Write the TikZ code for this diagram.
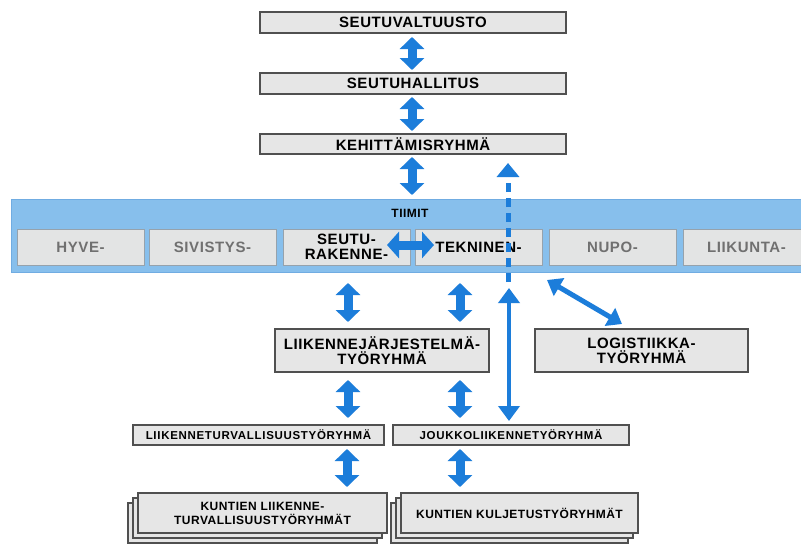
\documentclass[tikz,border=0pt]{standalone}
\usepackage{fontspec}
\setmainfont{Liberation Sans}
\newfontfamily\lbl[LetterSpace=4]{Liberation Sans}
\usetikzlibrary{arrows.meta}
\definecolor{ablue}{RGB}{28,125,218}
\definecolor{bandblue}{RGB}{135,191,236}
\definecolor{bandedge}{RGB}{112,172,226}
\definecolor{boxfill}{RGB}{230,230,230}
\definecolor{boxedge}{RGB}{80,80,80}
\definecolor{teamfill}{RGB}{227,228,228}
\definecolor{teamedge}{RGB}{150,162,172}
\definecolor{greytxt}{RGB}{112,112,112}
\begin{document}
\begin{tikzpicture}[x=1pt,y=-1pt,
  box/.style={draw=boxedge, fill=boxfill, line width=1.4pt, inner sep=0pt, align=center,
    font=\lbl\bfseries\fontsize{15}{15}\selectfont},
  smallbox/.style={box, font=\lbl\bfseries\addfontfeature{LetterSpace=6}\fontsize{11.5}{13.5}\selectfont},
  stackbox/.style={box, font=\lbl\bfseries\addfontfeature{LetterSpace=4}\fontsize{12}{14}\selectfont},
  teambox/.style={draw=teamedge, fill=teamfill, line width=1pt, inner sep=0pt, align=center,
    minimum width=127pt, minimum height=36pt, font=\lbl\bfseries\fontsize{15}{15.5}\selectfont},
  offteam/.style={teambox, text=greytxt},
  fat/.style={ablue, line width=9pt, {Triangle[width=24pt,length=12pt]}-{Triangle[width=24pt,length=12pt]}},
  hfat/.style={ablue, line width=9pt, {Triangle[width=26pt,length=12pt]}-{Triangle[width=26pt,length=12pt]}},
  thinarr/.style={ablue, line width=4pt, {Triangle[width=21pt,length=15pt]}-{Triangle[width=21pt,length=15pt]}},
  diagarr/.style={ablue, line width=5pt, {Triangle[width=20pt,length=14pt]}-{Triangle[width=20pt,length=14pt]}},
  dasharr/.style={ablue, line width=5pt, dash pattern=on 9pt off 6pt, -{Triangle[width=22pt,length=14pt]}}
]
\useasboundingbox (0,0) rectangle (801,544);
\fill[white] (0,0) rectangle (801,544);

% top chain
\node[box, minimum width=306pt, minimum height=21pt] (sv) at (413,22.5) {SEUTUVALTUUSTO};
\node[box, minimum width=306pt, minimum height=21pt] (sh) at (413,83.5) {SEUTUHALLITUS};
\node[box, minimum width=306pt, minimum height=20pt] (kr) at (413,144) {KEHITTÄMISRYHMÄ};

% band
\node[draw=bandedge, fill=bandblue, line width=1pt, minimum width=800pt, minimum height=73pt, inner sep=0pt] (band) at (411.5,235.5) {};
\node[font=\lbl\bfseries\fontsize{12}{12}\selectfont] (tiimit) at (410,213) {TIIMIT};
\node[offteam] (hyve) at (80.5,247) {HYVE-};
\node[offteam] (siv) at (212.5,247) {SIVISTYS-};
\node[teambox] (seutu) at (346.5,247) {SEUTU-\\RAKENNE-};
\node[teambox] (tek) at (478.5,247) {TEKNINEN-};
\node[offteam] (nupo) at (612.5,247) {NUPO-};
\node[offteam] (liik) at (746.5,247) {LIIKUNTA-};

% middle
\node[box, minimum width=214pt, minimum height=43pt] (lj) at (382,350.5) {LIIKENNEJÄRJESTELMÄ-\\TYÖRYHMÄ};
\node[box, minimum width=213pt, minimum height=43pt] (lg) at (641.5,350.5) {LOGISTIIKKA-\\TYÖRYHMÄ};

\node[smallbox, minimum width=251pt, minimum height=20pt] (lt) at (258.5,435) {LIIKENNETURVALLISUUSTYÖRYHMÄ};
\node[smallbox, minimum width=236pt, minimum height=20pt] (jl) at (511,435) {JOUKKOLIIKENNETYÖRYHMÄ};

% stacks
\node[box, minimum width=249pt, minimum height=40pt] (ks3) at (252.5,523) {};
\node[box, minimum width=249pt, minimum height=40pt] (ks2) at (257.5,518) {};
\node[stackbox, minimum width=249pt, minimum height=40pt] (ks) at (262.5,513) {KUNTIEN LIIKENNE-\\TURVALLISUUSTYÖRYHMÄT};
\node[box, minimum width=237pt, minimum height=40pt] (kk3) at (509.5,523) {};
\node[box, minimum width=237pt, minimum height=40pt] (kk2) at (514.5,518) {};
\node[stackbox, minimum width=237pt, minimum height=40pt] (kk) at (519.5,513) {KUNTIEN KULJETUSTYÖRYHMÄT};

% coordinates for arrow ends
\coordinate (a1) at (412,37);   \coordinate (a2) at (412,70);
\coordinate (b1) at (412,97);   \coordinate (b2) at (412,131);
\coordinate (c1) at (412,157);  \coordinate (c2) at (412,195);
\coordinate (d1) at (348,283);  \coordinate (d2) at (348,322);
\coordinate (e1) at (460,283);  \coordinate (e2) at (460,322);
\coordinate (f1) at (348,380);  \coordinate (f2) at (348,418);
\coordinate (g1) at (460,380);  \coordinate (g2) at (460,418);
\coordinate (h1) at (347,449);  \coordinate (h2) at (347,487);
\coordinate (i1) at (460,449);  \coordinate (i2) at (460,487);
\coordinate (ds) at (508,282);  \coordinate (de) at (508,163);
\coordinate (s1) at (509,288);  \coordinate (s2) at (509,421);
\coordinate (q1) at (547,280);  \coordinate (q2) at (622,324);
\coordinate (r1) at (387,245);  \coordinate (r2) at (434,245);

\draw[fat] (a1) -- (a2);
\draw[fat] (b1) -- (b2);
\draw[fat] (c1) -- (c2);
\draw[fat] (d1) -- (d2);
\draw[fat] (e1) -- (e2);
\draw[fat] (f1) -- (f2);
\draw[fat] (g1) -- (g2);
\draw[fat] (h1) -- (h2);
\draw[fat] (i1) -- (i2);
\draw[dasharr] (ds) -- (de);
\draw[thinarr] (s1) -- (s2);
\draw[diagarr] (q1) -- (q2);
\draw[hfat] (r1) -- (r2);
\end{tikzpicture}
\end{document}
